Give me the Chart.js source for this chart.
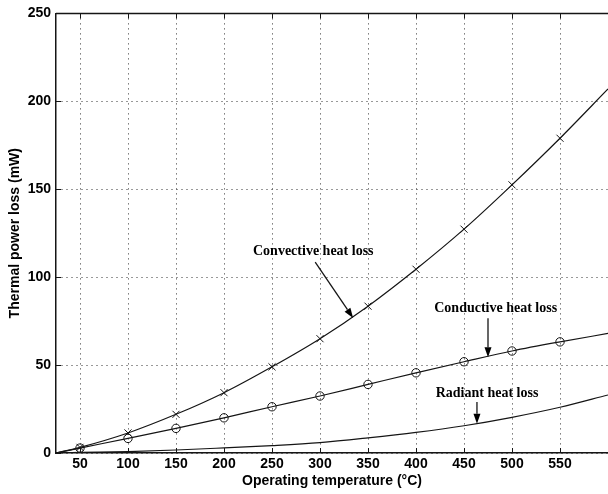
<!DOCTYPE html>
<html>
<head>
<meta charset="utf-8">
<script src="https://cdn.jsdelivr.net/npm/chart.js@4.4.1/dist/chart.umd.min.js"></script>
<style>
  html, body { margin: 0; padding: 0; background: #fff; }
  #wrap { width: 608px; height: 494px; }
</style>
</head>
<body>
<div id="wrap"><canvas id="lossChart" width="608" height="494"></canvas></div>
<script>
// Operating temperatures (°C) - first and last point are curve ends, no marker
let temps = [25, 50, 100, 150, 200, 250, 300, 350, 400, 450, 500, 550, 600];
// Thermal power loss values (mW)
let convective = [0, 3.2, 11.4, 22, 34.3, 49, 65, 83.5, 104.5, 127.3, 152.5, 179, 207];
let conductive = [0, 2.8, 8.3, 14, 20, 26.3, 32.4, 39, 45.6, 51.9, 58, 63.2, 68];
let radiant = [0, 0.3, 0.8, 1.7, 2.9, 4.2, 5.9, 8.6, 11.7, 15.5, 20.3, 26, 33];
// Tick labels
let xTicks = [50, 100, 150, 200, 250, 300, 350, 400, 450, 500, 550];
let yTicks = [0, 50, 100, 150, 200, 250];
// Annotation texts with their arrows, in data coordinates
let notes = [
  { text: 'Convective heat loss', x: 293, y: 114.8, from: [295, 108.5], to: [334.5, 76.8] },
  { text: 'Conductive heat loss', x: 483, y: 82.4, from: [475, 76.7], to: [475, 54.4] },
  { text: 'Radiant heat loss', x: 474, y: 34.1, from: [463.5, 29], to: [463.5, 16.6] }
];

let toPoints = (values) => temps.map((t, i) => ({ x: t, y: values[i] }));
// markers only at the tick temperatures
let markerSize = (r) => temps.map((t, i) => (i === 0 || i === temps.length - 1) ? 0 : r);

let ink = '#151515';

// Draws the top frame line, inward tick marks and the text/arrow annotations
let extrasPlugin = {
  id: 'extras',
  afterDraw(chart) {
    let ctx = chart.ctx;
    let area = chart.chartArea;
    let xs = chart.scales.x;
    let ys = chart.scales.y;
    ctx.save();
    ctx.strokeStyle = ink;
    ctx.lineWidth = 1.5;
    ctx.beginPath();
    ctx.moveTo(area.left, area.top);
    ctx.lineTo(area.right, area.top);
    ctx.stroke();

    ctx.lineWidth = 1;
    ctx.beginPath();
    xTicks.forEach(t => {
      let px = Math.round(xs.getPixelForValue(t)) + 0.5;
      ctx.moveTo(px, area.top);
      ctx.lineTo(px, area.top + 5);
      ctx.moveTo(px, area.bottom);
      ctx.lineTo(px, area.bottom - 5);
    });
    yTicks.forEach(t => {
      let py = Math.round(ys.getPixelForValue(t)) + 0.5;
      ctx.moveTo(area.left, py);
      ctx.lineTo(area.left + 5, py);
    });
    ctx.stroke();

    // annotations
    ctx.fillStyle = '#000';
    ctx.font = 'bold 14px "Liberation Serif", "Times New Roman", serif';
    ctx.textAlign = 'center';
    ctx.textBaseline = 'middle';
    notes.forEach(n => {
      ctx.fillText(n.text, xs.getPixelForValue(n.x), ys.getPixelForValue(n.y));
      let x1 = xs.getPixelForValue(n.from[0]);
      let y1 = ys.getPixelForValue(n.from[1]);
      let x2 = xs.getPixelForValue(n.to[0]);
      let y2 = ys.getPixelForValue(n.to[1]);
      let ang = Math.atan2(y2 - y1, x2 - x1);
      let head = 10;
      let half = 3.5;
      let bx = x2 - head * Math.cos(ang);
      let by = y2 - head * Math.sin(ang);
      ctx.lineWidth = 1.3;
      ctx.beginPath();
      ctx.moveTo(x1, y1);
      ctx.lineTo(bx, by);
      ctx.stroke();
      ctx.beginPath();
      ctx.moveTo(x2, y2);
      ctx.lineTo(bx + half * Math.sin(ang), by - half * Math.cos(ang));
      ctx.lineTo(bx - half * Math.sin(ang), by + half * Math.cos(ang));
      ctx.closePath();
      ctx.fill();
    });
    ctx.restore();
  }
};

let lineSet = (label, values, style, r) => ({
  label: label,
  data: toPoints(values),
  showLine: true,
  borderColor: ink,
  borderWidth: 1.2,
  backgroundColor: 'rgba(0,0,0,0)',
  pointStyle: style,
  pointRadius: markerSize(r),
  pointBorderColor: ink,
  pointBorderWidth: 1,
  pointBackgroundColor: 'rgba(0,0,0,0)',
  cubicInterpolationMode: 'monotone',
  tension: 0.4
});

let tickFont = { family: '"Liberation Sans", Arial, sans-serif', size: 14, weight: 'bold' };

let lossChart = new Chart(document.getElementById('lossChart').getContext('2d'), {
  type: 'scatter',
  data: {
    datasets: [
      lineSet('Convective heat loss', convective, 'crossRot', 5),
      lineSet('Conductive heat loss', conductive, 'circle', 4.2),
      lineSet('Radiant heat loss', radiant, 'circle', 0)
    ]
  },
  options: {
    responsive: false,
    animation: false,
    layout: { padding: { top: 13, right: 0, left: 0, bottom: 0 } },
    plugins: {
      legend: { display: false },
      tooltip: { enabled: false }
    },
    scales: {
      x: {
        type: 'linear',
        min: 25,
        max: 600,
        afterBuildTicks: (scale) => { scale.ticks = xTicks.map(v => ({ value: v })); },
        afterFit: (scale) => { scale.height = 41; },
        ticks: { color: '#000', font: tickFont, padding: 3, maxRotation: 0, autoSkip: false },
        grid: { color: '#333', lineWidth: 1, drawTicks: false },
        border: { display: true, color: ink, width: 1.5, dash: [1, 4] },
        title: {
          display: true,
          text: 'Operating temperature (°C)',
          color: '#000',
          font: tickFont,
          padding: { top: 4, bottom: 4 }
        }
      },
      y: {
        min: 0,
        max: 250,
        afterBuildTicks: (scale) => { scale.ticks = yTicks.map(v => ({ value: v })); },
        afterFit: (scale) => { scale.width = 56; },
        ticks: { color: '#000', font: tickFont, padding: 5 },
        grid: { color: '#333', lineWidth: 1, drawTicks: false },
        border: { display: true, color: ink, width: 1.5, dash: [1, 4] },
        title: {
          display: true,
          text: 'Thermal power loss (mW)',
          color: '#000',
          font: tickFont,
          padding: { top: 7, bottom: 4 }
        }
      }
    }
  },
  plugins: [extrasPlugin]
});
</script>
</body>
</html>
